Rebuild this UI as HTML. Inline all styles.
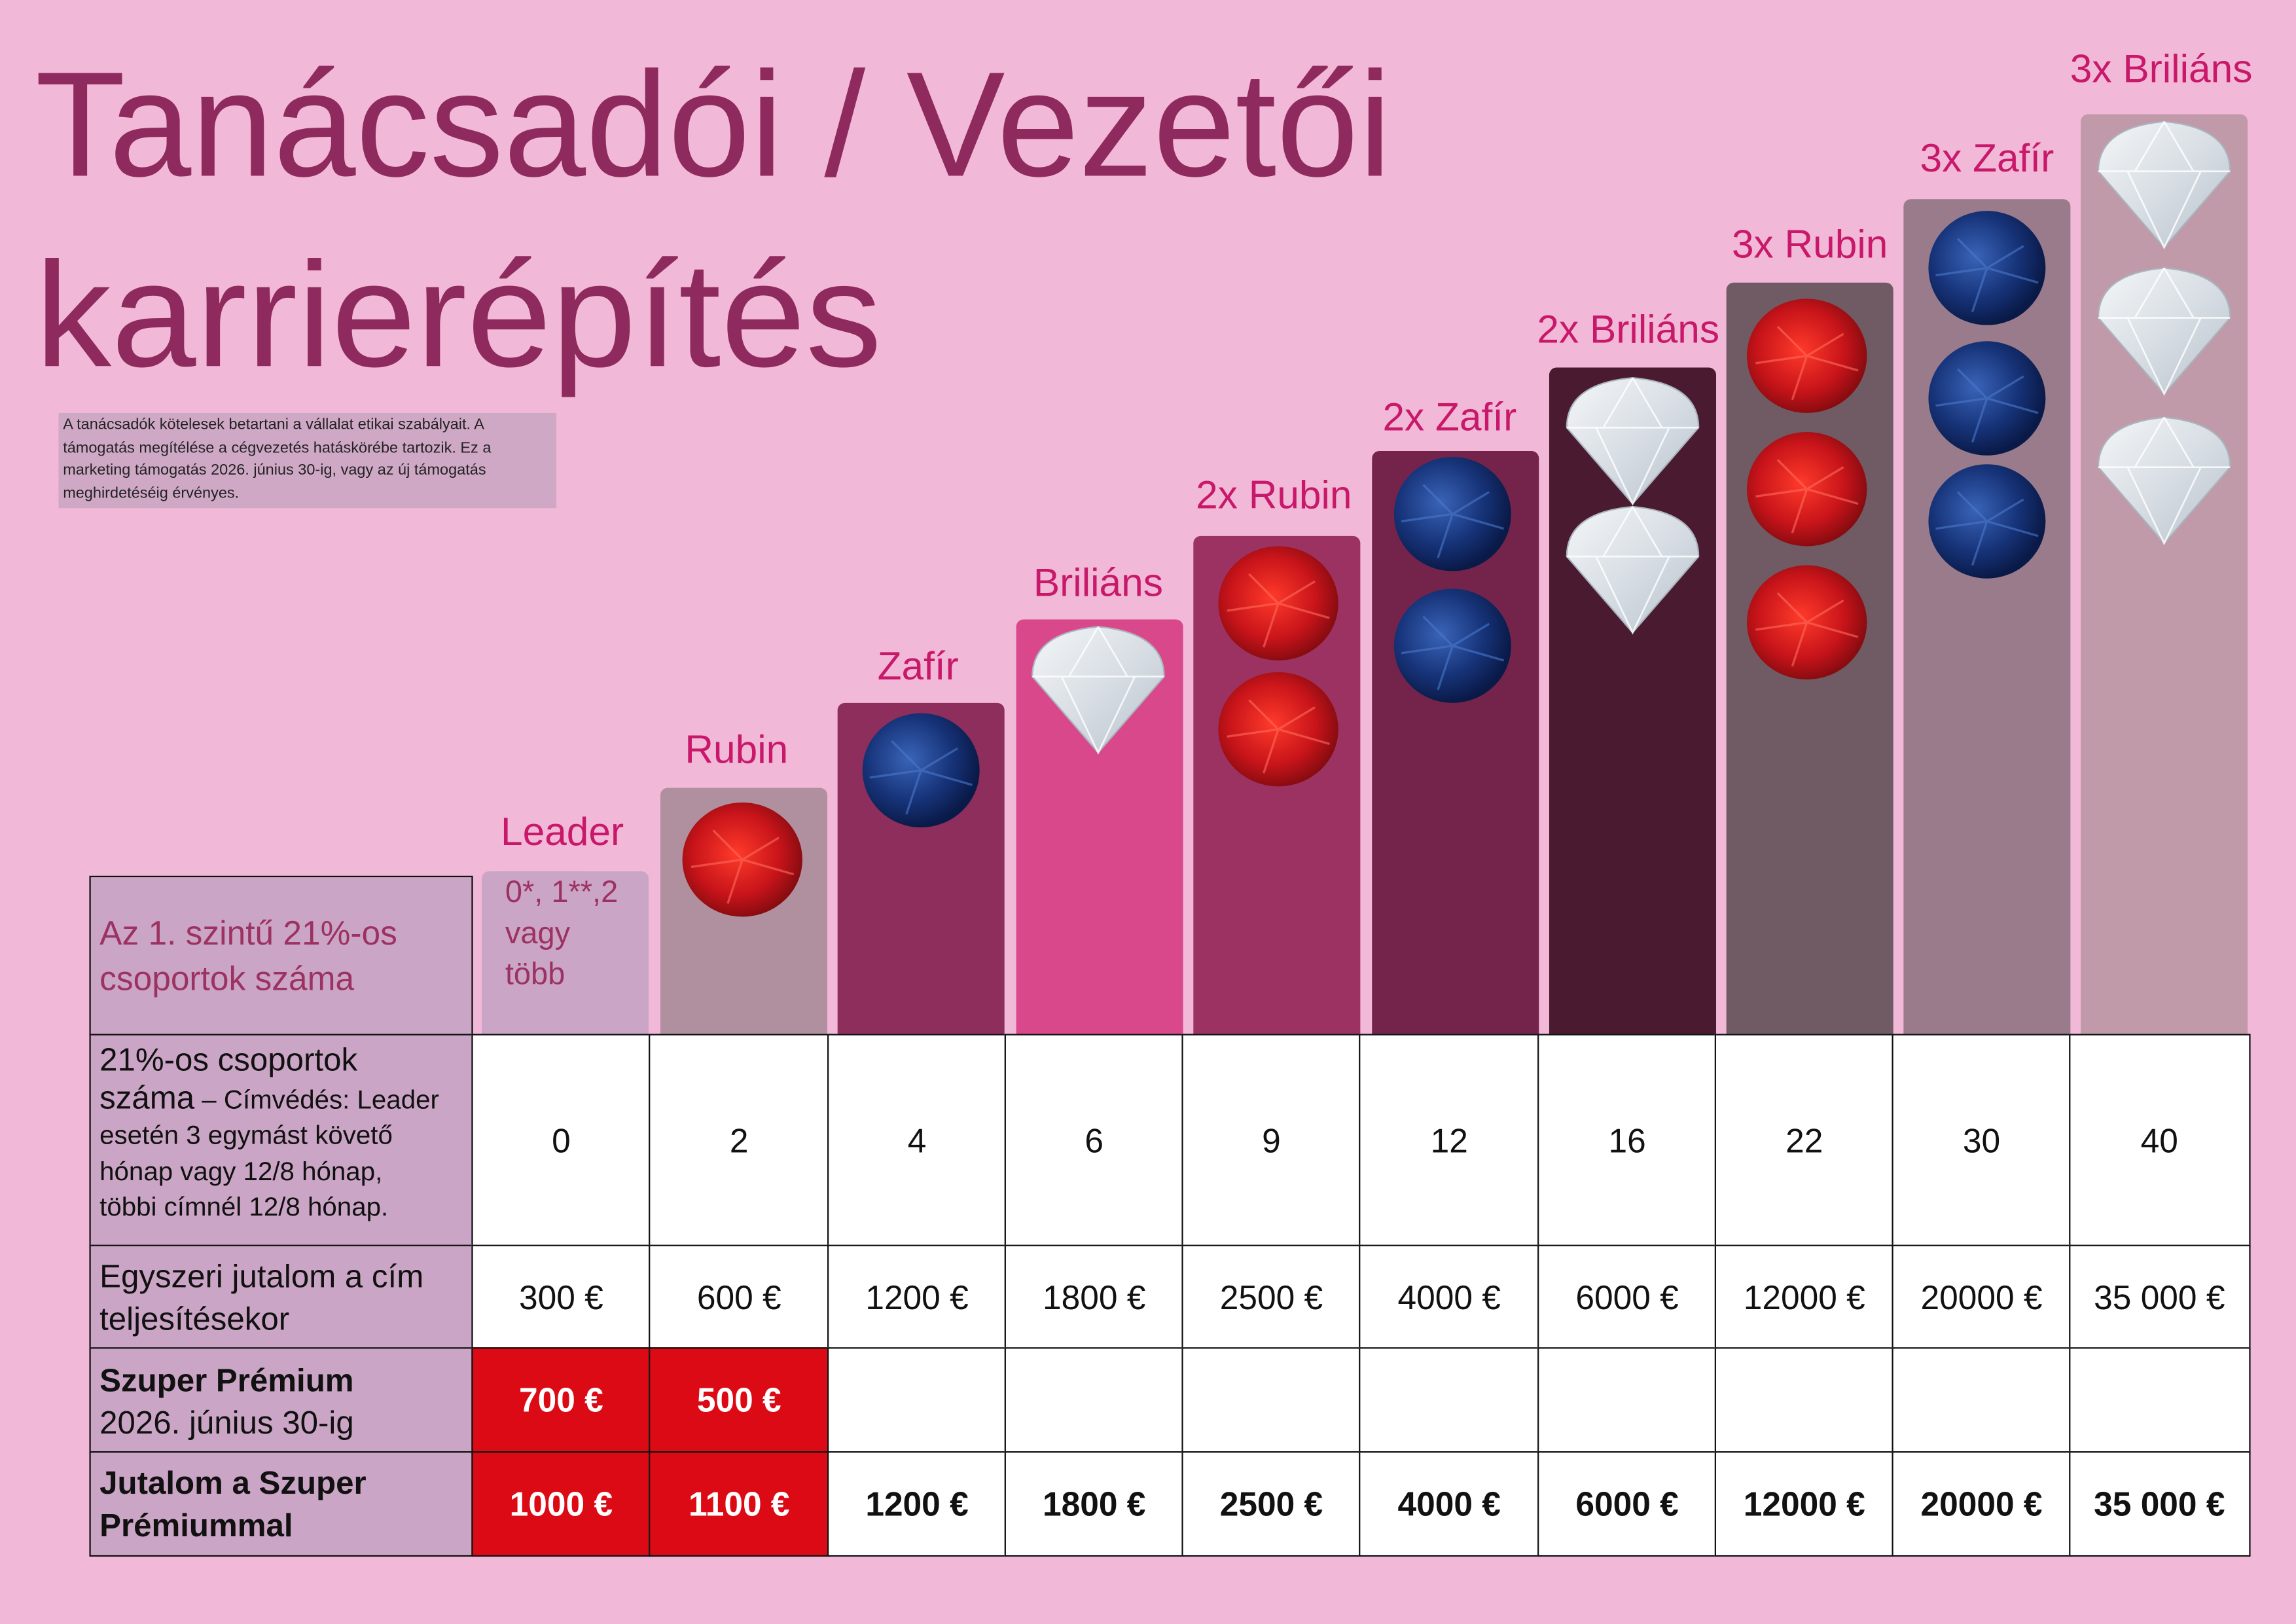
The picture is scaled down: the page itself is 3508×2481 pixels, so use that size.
<!DOCTYPE html>
<html><head><meta charset="utf-8"><style>
html,body{margin:0;padding:0;background:#f2b8d8;}
#w{position:relative;width:1568px;height:1109px;transform:scale(2.2372);transform-origin:0 0;font-family:"Liberation Sans",sans-serif;overflow:hidden}
.a{position:absolute}
.t{color:#8f2a5e;font-size:102px;white-space:nowrap;transform-origin:0 0;line-height:1}
.lab{position:absolute;color:#c8186a;font-size:27px;text-align:center;width:160px;white-space:nowrap}
.c{position:absolute;border:1.5px solid #111;box-sizing:border-box;display:flex;align-items:center;justify-content:center;font-size:23px;color:#111;background:#fff}
.l{background:#cba5c5;justify-content:flex-start;padding-left:6px;line-height:1.2}
.r{background:#dc0a14;color:#fff;font-weight:bold}
.b{font-weight:bold}
</style></head><body><div id="w">
<div class="a t" style="left:24px;top:34px;transform:scaleX(0.99)">Tanácsadói / Vezetői</div>
<div class="a t" style="left:24px;top:164px;transform:scaleX(1.02)">karrierépítés</div>
<div class="a" style="left:40px;top:282px;width:340px;height:65px;background:#cfa8c6;font-size:10.5px;line-height:15.5px;padding:1px 3px;box-sizing:border-box;color:#222">A tanácsadók kötelesek betartani a vállalat etikai szabályait. A támogatás megítélése a cégvezetés hatáskörébe tartozik. Ez a marketing támogatás 2026. június 30-ig, vagy az új támogatás meghirdetéséig érvényes.</div>
<svg class="a" style="left:0;top:0" width="1568" height="1109">
<defs>
<radialGradient id="ru" cx="0.45" cy="0.45" r="0.6"><stop offset="0" stop-color="#ff3a2a"/><stop offset="0.6" stop-color="#c8141a"/><stop offset="1" stop-color="#7a0a0e"/></radialGradient>
<radialGradient id="sa" cx="0.4" cy="0.4" r="0.6"><stop offset="0" stop-color="#3a64b8"/><stop offset="0.6" stop-color="#17347a"/><stop offset="1" stop-color="#0a1a48"/></radialGradient>
<linearGradient id="di" x1="0" y1="0" x2="1" y2="1"><stop offset="0" stop-color="#f4f6f8"/><stop offset="0.5" stop-color="#d8dee4"/><stop offset="1" stop-color="#b8c2cc"/></linearGradient>
<g id="R"><ellipse rx="41" ry="39" fill="url(#ru)"/><path d="M-20,-20 L0,0 L25,-15 M0,0 L-10,30 M0,0 L35,10 M0,0 L-35,5" stroke="#ff6a5a" stroke-width="1.5" fill="none" opacity="0.6"/></g>
<g id="S"><ellipse rx="40" ry="39" fill="url(#sa)"/><path d="M-20,-20 L0,0 L25,-15 M0,0 L-10,30 M0,0 L35,10 M0,0 L-35,5" stroke="#4a78cc" stroke-width="1.5" fill="none" opacity="0.6"/></g>
<g id="D"><path d="M-45,-8 Q-45,-38 0,-42 Q45,-38 45,-8 L0,44 Z" fill="url(#di)" stroke="#aab4be" stroke-width="1"/><path d="M-45,-8 L45,-8 M-25,-8 L0,44 L25,-8 M0,-42 L-20,-8 M0,-42 L20,-8" stroke="#fff" stroke-width="1.2" fill="none" opacity="0.8"/></g>
</defs>
<rect x="329" y="595" width="114" height="120" rx="5" fill="#cba5c5"/>
<rect x="451" y="538" width="114" height="180" rx="5" fill="#b0909f"/>
<rect x="572" y="480" width="114" height="240" rx="5" fill="#8d2e5c"/>
<rect x="694" y="423" width="114" height="290" rx="5" fill="#d9488a"/>
<rect x="815" y="366" width="114" height="350" rx="5" fill="#9c3262"/>
<rect x="937" y="308" width="114" height="410" rx="5" fill="#74244a"/>
<rect x="1058" y="251" width="114" height="460" rx="5" fill="#4a1a30"/>
<rect x="1179" y="193" width="114" height="520" rx="5" fill="#705a64"/>
<rect x="1300" y="136" width="114" height="580" rx="5" fill="#9a7b8c"/>
<rect x="1421" y="78" width="114" height="640" rx="5" fill="#c19aaa"/>
<use href="#R" x="507" y="587"/>
<use href="#S" x="629" y="526"/>
<use href="#D" x="750" y="470"/>
<use href="#R" x="873" y="412"/><use href="#R" x="873" y="498"/>
<use href="#S" x="992" y="351"/><use href="#S" x="992" y="441"/>
<use href="#D" x="1115" y="300"/><use href="#D" x="1115" y="388"/>
<use href="#R" x="1234" y="243"/><use href="#R" x="1234" y="334"/><use href="#R" x="1234" y="425"/>
<use href="#S" x="1357" y="183"/><use href="#S" x="1357" y="272"/><use href="#S" x="1357" y="356"/>
<use href="#D" x="1478" y="125"/><use href="#D" x="1478" y="225"/><use href="#D" x="1478" y="327"/>
</svg>
<div class="lab" style="left:304px;top:553px">Leader</div>
<div class="lab" style="left:423px;top:497px">Rubin</div>
<div class="lab" style="left:547px;top:440px">Zafír</div>
<div class="lab" style="left:670px;top:383px">Briliáns</div>
<div class="lab" style="left:790px;top:323px">2x Rubin</div>
<div class="lab" style="left:910px;top:270px">2x Zafír</div>
<div class="lab" style="left:1032px;top:210px">2x Briliáns</div>
<div class="lab" style="left:1156px;top:152px">3x Rubin</div>
<div class="lab" style="left:1277px;top:93px">3x Zafír</div>
<div class="lab" style="left:1396px;top:32px">3x Briliáns</div>
<div class="a" style="left:345px;top:596px;color:#9c3262;font-size:21px;line-height:28px">0*, 1**,2<br>vagy<br>több</div>
<div class="c l" style="left:61px;top:598px;width:262px;height:109px;color:#9c3262;font-size:23px;line-height:31px">Az 1. szintű 21%-os<br>csoportok száma</div>
<div class="c l" style="left:61px;top:706px;width:262px;height:146px;font-size:18px;line-height:24.5px;display:block;padding-top:5px"><span style="font-size:22px">21%-os csoportok<br>száma</span> – Címvédés: Leader<br>esetén 3 egymást követő<br>hónap vagy 12/8 hónap,<br>többi címnél 12/8 hónap.</div>
<div class="c l" style="left:61px;top:850px;width:262px;height:72px;font-size:22px;line-height:29px">Egyszeri jutalom a cím<br>teljesítésekor</div>
<div class="c l" style="left:61px;top:920px;width:262px;height:73px;font-size:22px;line-height:29px"><span><b>Szuper Prémium</b><br>2026. június 30-ig</span></div>
<div class="c l b" style="left:61px;top:991px;width:262px;height:72px;font-size:22px;line-height:29px">Jutalom a Szuper<br>Prémiummal</div>
<div id="cells"></div>
<script>
var xs=[322,443,565,686,807,928,1050,1171,1292,1413,1535];
var r2=["0","2","4","6","9","12","16","22","30","40"];
var r3=["300 €","600 €","1200 €","1800 €","2500 €","4000 €","6000 €","12000 €","20000 €","35 000 €"];
var r4=["700 €","500 €","","","","","","","",""];
var r5=["1000 €","1100 €","1200 €","1800 €","2500 €","4000 €","6000 €","12000 €","20000 €","35 000 €"];
var h="";
function row(arr,y,ht,cls,red){for(var i=0;i<10;i++){var w=xs[i+1]-xs[i]+1.5;var c="c "+cls+((red&&i<2)?" r":"");h+='<div class="'+c+'" style="left:'+xs[i]+'px;top:'+y+'px;width:'+w+'px;height:'+ht+'px">'+arr[i]+'</div>';}}
row(r2,706,146,"",false);row(r3,850,72,"",false);row(r4,920,73,"b",true);row(r5,991,72,"b",true);
document.getElementById("cells").innerHTML=h;
</script>
</div></body></html>
